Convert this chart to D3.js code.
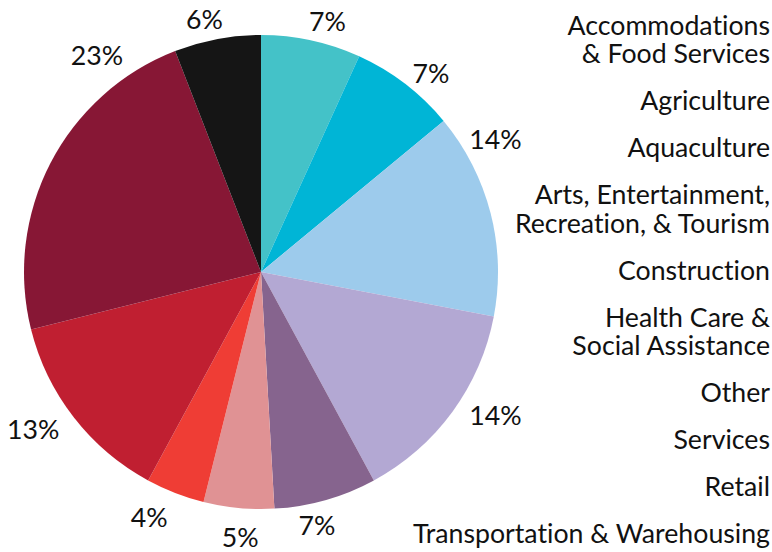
<!DOCTYPE html>
<html>
<head>
<meta charset="utf-8">
<script src="https://cdn.jsdelivr.net/npm/d3@7"></script>
<style>
  body { margin: 0; background: #fff; }
  svg text { font-family: Lato, "Open Sans", sans-serif; fill: #111; font-variant-ligatures: none; }
</style>
</head>
<body>
<div id="chart"></div>
<script>
  // ---------------- data ----------------
  const categories = [
    "Accommodations & Food Services",
    "Agriculture",
    "Aquaculture",
    "Arts, Entertainment, Recreation, & Tourism",
    "Construction",
    "Health Care & Social Assistance",
    "Other",
    "Services",
    "Retail",
    "Transportation & Warehousing"
  ];
  // legend line breaks as in the original
  const legendLines = [
    ["Accommodations", "& Food Services"],
    ["Agriculture"],
    ["Aquaculture"],
    ["Arts, Entertainment,", "Recreation, & Tourism"],
    ["Construction"],
    ["Health Care &", "Social Assistance"],
    ["Other"],
    ["Services"],
    ["Retail"],
    ["Transportation & Warehousing"]
  ];
  // slice shares (percent), clockwise from 12 o'clock
  const shares = [6.8, 7.2, 14.0, 14.1, 7.0, 4.8, 4.0, 13.2, 23.0, 5.9];
  const labels = ["7%", "7%", "14%", "14%", "7%", "5%", "4%", "13%", "23%", "6%"];
  const colors = ["#44c2c8", "#00b5d6", "#9dcbec", "#b3a8d3", "#86648e",
                  "#e09294", "#ef3d35", "#c01f31", "#871735", "#151515"];

  // label tweaks to follow the original placement: angle (deg) and radial push (px)
  const labelNudge = [2.6, 3.1, -15, -4.7, 3.4, -0.9, 3.2, 3.1, 25.5, -2];
  const labelPush = [0, -3, -3.5, 2.3, 1, 10, 8.5, 5, 3, 0];

  // ---------------- layout ----------------
  const W = 772, H = 552;
  const cx = 261, cy = 272, R = 237;

  const svg = d3.select("#chart").append("svg")
    .attr("width", W).attr("height", H);

  const g = svg.append("g").attr("transform", `translate(${cx},${cy})`);

  const pie = d3.pie().sort(null).value(d => d)(shares);
  const arc = d3.arc().innerRadius(0).outerRadius(R);

  g.selectAll("path.slice")
    .data(pie)
    .enter()
    .append("path")
    .attr("class", "slice")
    .attr("d", arc)
    .attr("fill", (d, i) => colors[i]);

  // percentage labels outside the pie
  const fs = 26.7;
  const lab = g.selectAll("text.pct")
    .data(pie)
    .enter()
    .append("text")
    .attr("class", "pct")
    .attr("text-anchor", "middle")
    .attr("dy", "0.35em")
    .style("font-size", fs + "px")
    .text((d, i) => labels[i]);

  lab.each(function (d, i) {
    const w = this.getComputedTextLength();
    const a = (d.startAngle + d.endAngle) / 2 + labelNudge[i] * Math.PI / 180;
    const r = R + 8 + labelPush[i] + (w / 2) * Math.abs(Math.sin(a)) + 10 * Math.abs(Math.cos(a));
    d3.select(this)
      .attr("x", r * Math.sin(a))
      .attr("y", -r * Math.cos(a));
  });

  // legend text, right aligned, no swatches; one text per entry
  const lineGap = 28.3, entryGap = 47;
  let y = 35;
  const legend = svg.append("g").attr("class", "legend");
  legendLines.forEach((lines, i) => {
    const t = legend.append("text")
      .attr("text-anchor", "end")
      .style("font-size", fs + "px");
    lines.forEach((line, j) => {
      if (j > 0) y += lineGap;
      t.append("tspan").attr("x", 770).attr("y", y).text(line);
    });
    y += entryGap;
  });
</script>
</body>
</html>
